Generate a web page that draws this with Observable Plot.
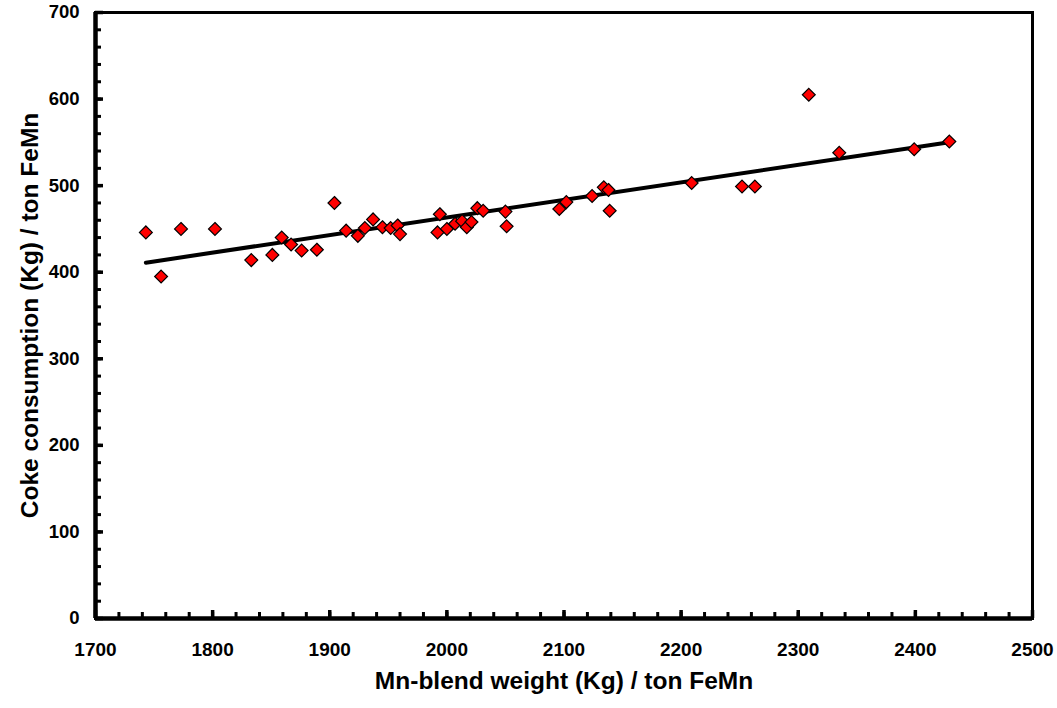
<!DOCTYPE html>
<html>
<head>
<meta charset="utf-8">
<script src="https://cdn.jsdelivr.net/npm/d3@7"></script>
<script src="https://cdn.jsdelivr.net/npm/@observablehq/plot@0.6"></script>
<style>
  html, body { margin: 0; padding: 0; background: #fff; }
  #chart svg { display: block; }
</style>
</head>
<body>
<div id="chart"></div>
<script>
// Mn-blend weight (Kg) / ton FeMn
const blendWeight = [
  1743, 1756, 1773, 1802, 1833, 1851, 1859, 1867, 1876, 1889,
  1904, 1914, 1924, 1930, 1937, 1945, 1952, 1958, 1960, 1992,
  1994, 2000, 2007, 2013, 2017, 2021, 2026, 2031, 2050, 2051,
  2096, 2102, 2124, 2134, 2138, 2139, 2209, 2252, 2263, 2309,
  2335, 2399, 2429
];
// Coke consumption (Kg) / ton FeMn
const cokeConsumption = [
  446, 395, 450, 450, 414, 420, 440, 432, 425, 426,
  480, 448, 442, 451, 461, 452, 451, 454, 444, 446,
  467, 450, 456, 459, 452, 458, 474, 471, 470, 453,
  473, 481, 488, 498, 495, 471, 503, 499, 499, 605,
  538, 542, 551
];
const xMajorTicks = [1700, 1800, 1900, 2000, 2100, 2200, 2300, 2400, 2500];
const yMajorTicks = [0, 100, 200, 300, 400, 500, 600, 700];
const xMinorTicks = d3.range(1700, 2501, 20);
const yMinorTicks = d3.range(0, 701, 20);
const xTitle = "Mn-blend weight (Kg) / ton FeMn";
const yTitle = "Coke consumption (Kg) / ton FeMn";

const points = blendWeight.map((x, i) => ({x, y: cokeConsumption[i]}));

const W = 1057, H = 708;
const mL = 95, mR = 25, mT = 12, mB = 90;
const plotW = W - mL - mR, plotH = H - mT - mB;
const font = "'Liberation Sans', Arial, sans-serif";

const chart = Plot.plot({
  width: W,
  height: H,
  marginLeft: mL,
  marginRight: mR,
  marginTop: mT,
  marginBottom: mB,
  style: {fontFamily: font, background: "#fff"},
  x: {domain: [1700, 2500]},
  y: {domain: [0, 700]},
  marks: [
    Plot.frame({stroke: "#000", strokeWidth: 3}),
    // inward minor ticks
    Plot.tickX(xMinorTicks, {x: d => d, insetTop: plotH - 6, stroke: "#000", strokeWidth: 3}),
    Plot.tickY(yMinorTicks, {y: d => d, insetRight: plotW - 6, stroke: "#000", strokeWidth: 3}),
    // inward major ticks
    Plot.tickX(xMajorTicks, {x: d => d, insetTop: plotH - 8, stroke: "#000", strokeWidth: 3.5}),
    Plot.tickY(yMajorTicks, {y: d => d, insetRight: plotW - 8, stroke: "#000", strokeWidth: 3.5}),
    Plot.ruleX([1700], {stroke: "#000", strokeWidth: 4.5}),
    Plot.ruleY([0], {stroke: "#000", strokeWidth: 4.5}),
    Plot.axisX({ticks: xMajorTicks, tickSize: 0, tickPadding: 24, tickFormat: d => String(d), fontSize: 19, fontWeight: "bold", label: null}),
    Plot.axisY({ticks: yMajorTicks, tickSize: 0, tickPadding: 16, tickFormat: d => String(d), fontSize: 18.5, fontWeight: "bold", label: null}),
    Plot.linearRegressionY(points, {x: "x", y: "y", ci: 0, stroke: "#000", strokeWidth: 4}),
    Plot.dot(points, {x: "x", y: "y", symbol: "diamond2", r: 5.8, fill: "#ff0000", stroke: "#000", strokeWidth: 1.2}),
    Plot.text([xTitle], {text: d => d, frameAnchor: "bottom", dy: 70, fontSize: 24.5, fontWeight: "bold", fill: "#000"}),
    Plot.text([yTitle], {text: d => d, frameAnchor: "left", dx: -65, rotate: -90, textAnchor: "middle", fontSize: 24.5, fontWeight: "bold", fill: "#000"})
  ]
});
document.getElementById("chart").appendChild(chart);
</script>
</body>
</html>
